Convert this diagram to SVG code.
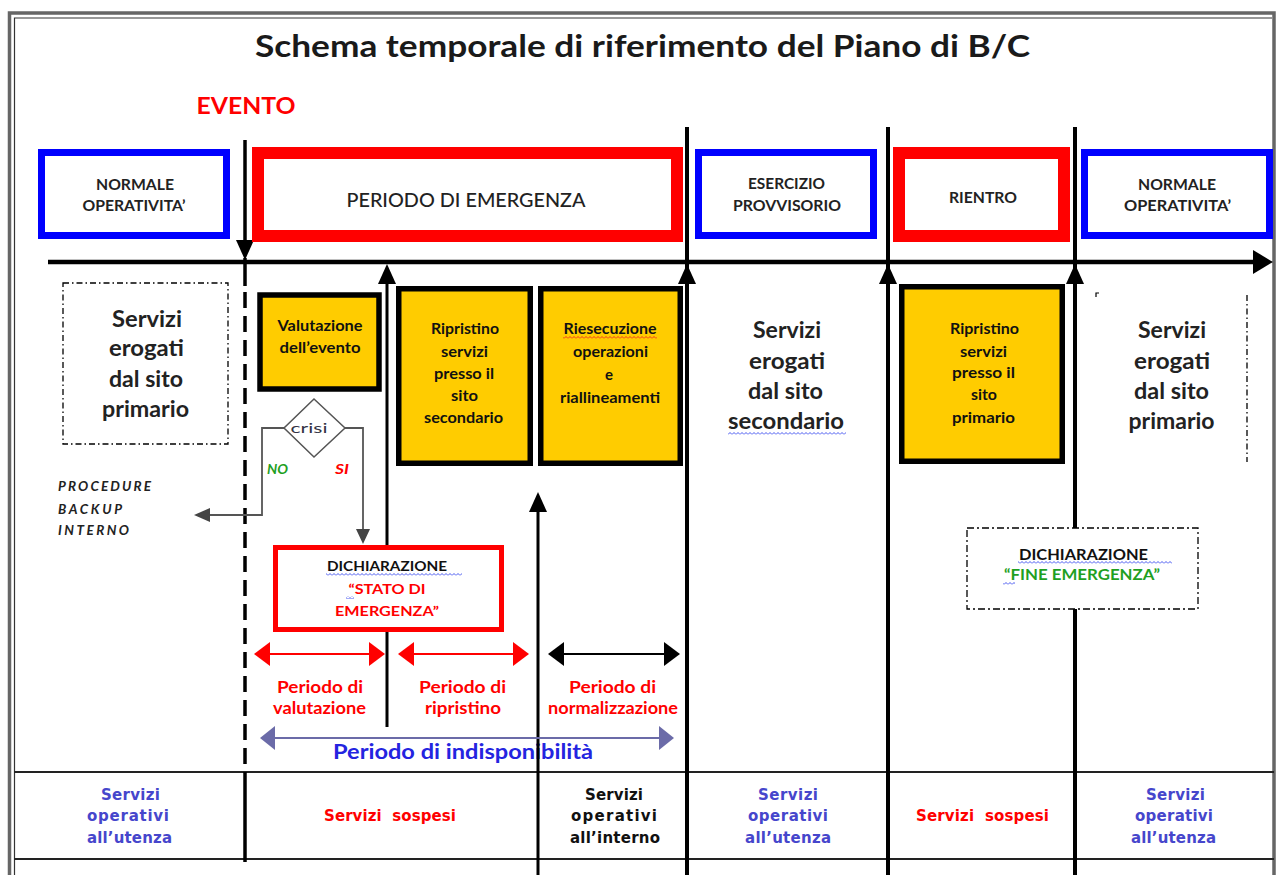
<svg xmlns="http://www.w3.org/2000/svg" xmlns:xlink="http://www.w3.org/1999/xlink" width="1276" height="875" viewBox="0 0 1276 875">
<defs>
<style>
text{font-family:Lato,"Liberation Sans","DejaVu Sans",sans-serif;}
.c{text-anchor:middle}
.hd{font-size:15.5px;font-weight:700;fill:#222}
.serv{font-size:22px;font-weight:700;fill:#222}
.yl{font-size:15px;font-weight:700;fill:#111}
.per{font-size:17.5px;font-weight:700;fill:#ff0000}
.tb{font-family:"DejaVu Sans",Verdana,sans-serif;font-size:15px;font-weight:700}
.blu{fill:#4646cc}
.red{fill:#ff0000}
.blk{fill:#111}
.grn{fill:#1fa01f}
.ybox{fill:#ffcc00;stroke:#000;stroke-width:5.5}
.bbox{fill:#fff;stroke:#0000ff;stroke-width:7}
.rbox{fill:#fff;stroke:#ff0000;stroke-width:12}
.dd{fill:none;stroke:#000;stroke-width:1.3;stroke-dasharray:6 3 1.5 3}
.vl{stroke:#000;stroke-width:4}
.vt{stroke:#000;stroke-width:3}
.gl{fill:none;stroke:#555;stroke-width:1.8}
.tl{stroke:#222;stroke-width:2}
.it{font-style:italic;font-weight:700}
</style>
<path id="ahUp" d="M0,0 L9,20 L-9,20 Z"/>
<path id="ahL" d="M0,0 L16,-12 L16,12 Z"/>
<path id="ahR" d="M0,0 L-16,-12 L-16,12 Z"/>
<path id="ahL2" d="M0,0 L15,-12 L15,12 Z"/>
<path id="ahR2" d="M0,0 L-15,-12 L-15,12 Z"/>
<pattern id="wvB" width="4" height="3" patternUnits="userSpaceOnUse"><path d="M0,2.5 L2,0.5 L4,2.5" fill="none" stroke="#3344ee" stroke-width="0.9"/></pattern>
<pattern id="wvR" width="4" height="3" patternUnits="userSpaceOnUse"><path d="M0,2.5 L2,0.5 L4,2.5" fill="none" stroke="#ee2222" stroke-width="0.9"/></pattern>
</defs>

<rect x="0" y="0" width="1276" height="875" fill="#fff"/>

<g id="frame">
<rect x="9.5" y="13" width="1264.5" height="900" fill="none" stroke="#666" stroke-width="3.5"/>
<path d="M14.5,880 V18 H1272" fill="none" stroke="#333" stroke-width="1.2"/>
</g>

<g id="title">
<text x="642.5" y="57" class="c" font-size="31" font-weight="700" fill="#1a1a1a" textLength="775" lengthAdjust="spacingAndGlyphs">Schema temporale di riferimento del Piano di B/C</text>
</g>
<g id="evento">
<text x="246" y="114" class="c red" font-size="23" font-weight="700" textLength="99" lengthAdjust="spacingAndGlyphs">EVENTO</text>
</g>

<text x="463" y="759" class="c" font-size="20" font-weight="700" fill="#2424e0" textLength="260" lengthAdjust="spacingAndGlyphs">Periodo di indisponibilità</text>

<g id="table">
<line x1="14" y1="772" x2="1274" y2="772" class="tl"/>
<line x1="14" y1="859" x2="1274" y2="859" class="tl"/>
</g>

<g id="connectors">
<line x1="48" y1="262" x2="1256" y2="262" stroke="#000" stroke-width="4.5"/>
<path d="M1253,250 L1273,262 L1253,274 Z" fill="#000"/>
<line x1="245" y1="140" x2="245" y2="246" stroke="#000" stroke-width="3.5"/>
<use xlink:href="#ahUp" transform="translate(245,260) rotate(180)" fill="#000"/>
<line x1="245" y1="258" x2="245" y2="286" stroke="#000" stroke-width="3.5"/>
<line x1="245" y1="292" x2="245" y2="772" stroke="#000" stroke-width="3.5" stroke-dasharray="16 8"/>
<line x1="245" y1="772" x2="245" y2="862" stroke="#000" stroke-width="3.5"/>
<line x1="387" y1="280" x2="387" y2="727" class="vt"/>
<use xlink:href="#ahUp" x="387" y="264" fill="#000"/>
<line x1="538" y1="508" x2="538" y2="875" class="vt"/>
<use xlink:href="#ahUp" x="538" y="492" fill="#000"/>
<line x1="687" y1="127" x2="687" y2="875" class="vl"/>
<use xlink:href="#ahUp" x="687" y="264" fill="#000"/>
<line x1="888" y1="127" x2="888" y2="875" class="vl"/>
<use xlink:href="#ahUp" x="888" y="264" fill="#000"/>
<line x1="1075" y1="127" x2="1075" y2="875" class="vl"/>
<use xlink:href="#ahUp" x="1075" y="264" fill="#000"/>
<path d="M284,428 H262 V515 H206" class="gl"/>
<path d="M210,508 L194,515 L210,522 Z" fill="#444"/>
<path d="M345,428 H363 V532" class="gl"/>
<path d="M356,529 L363,544 L370,529 Z" fill="#444"/>
<line x1="268" y1="654" x2="371" y2="654" stroke="#ff0000" stroke-width="2"/>
<use xlink:href="#ahL" x="254" y="654" fill="#ff0000"/>
<use xlink:href="#ahR" x="385" y="654" fill="#ff0000"/>
<line x1="412" y1="654" x2="515" y2="654" stroke="#ff0000" stroke-width="2"/>
<use xlink:href="#ahL" x="398" y="654" fill="#ff0000"/>
<use xlink:href="#ahR" x="529" y="654" fill="#ff0000"/>
<line x1="562" y1="654" x2="666" y2="654" stroke="#000" stroke-width="2"/>
<use xlink:href="#ahL" x="548" y="654" fill="#000"/>
<use xlink:href="#ahR" x="680" y="654" fill="#000"/>
<line x1="272" y1="738" x2="662" y2="738" stroke="#6b6ba8" stroke-width="2"/>
<use xlink:href="#ahL2" x="260" y="738" fill="#6b6ba8"/>
<use xlink:href="#ahR2" x="674" y="738" fill="#6b6ba8"/>
</g>

<g id="normale-sx">
<rect x="41.5" y="152.5" width="185" height="83" class="bbox"/>
<text x="135" y="190" class="c hd" textLength="78" lengthAdjust="spacingAndGlyphs">NORMALE</text>
<text x="134" y="211" class="c hd" textLength="103" lengthAdjust="spacingAndGlyphs">OPERATIVITA’</text>
</g>
<g id="periodo-emergenza">
<rect x="258" y="153" width="419" height="83" class="rbox"/>
<text x="466" y="207" class="c" font-size="19.5" font-weight="500" fill="#222" textLength="239" lengthAdjust="spacingAndGlyphs">PERIODO DI EMERGENZA</text>
</g>
<g id="esercizio">
<rect x="698.5" y="152.5" width="175" height="83" class="bbox"/>
<text x="786.5" y="189" class="c hd" font-size="14.5" textLength="77" lengthAdjust="spacingAndGlyphs">ESERCIZIO</text>
<text x="787" y="211" class="c hd" font-size="14.5" textLength="108" lengthAdjust="spacingAndGlyphs">PROVVISORIO</text>
</g>
<g id="rientro">
<rect x="899" y="153" width="165" height="83" class="rbox"/>
<text x="983" y="203" class="c hd" font-size="14.5" textLength="68" lengthAdjust="spacingAndGlyphs">RIENTRO</text>
</g>
<g id="normale-dx">
<rect x="1084.5" y="152.5" width="185" height="83" class="bbox"/>
<text x="1177" y="190" class="c hd" textLength="78" lengthAdjust="spacingAndGlyphs">NORMALE</text>
<text x="1177.5" y="211" class="c hd" textLength="107" lengthAdjust="spacingAndGlyphs">OPERATIVITA’</text>
</g>

<g id="servizi-primario-sx">
<rect x="63" y="283" width="165" height="161" class="dd"/>
<text x="147" y="327" class="c serv" textLength="70" lengthAdjust="spacingAndGlyphs">Servizi</text>
<text x="146.5" y="356" class="c serv" textLength="75" lengthAdjust="spacingAndGlyphs">erogati</text>
<text x="146" y="387" class="c serv" textLength="74" lengthAdjust="spacingAndGlyphs">dal sito</text>
<text x="145.5" y="417" class="c serv" textLength="87" lengthAdjust="spacingAndGlyphs">primario</text>
</g>
<g id="servizi-secondario">
<text x="787" y="338" class="c serv" textLength="68" lengthAdjust="spacingAndGlyphs">Servizi</text>
<text x="787" y="369" class="c serv" textLength="76" lengthAdjust="spacingAndGlyphs">erogati</text>
<text x="785.5" y="399" class="c serv" textLength="75" lengthAdjust="spacingAndGlyphs">dal sito</text>
<text x="786" y="429" class="c serv" textLength="116" lengthAdjust="spacingAndGlyphs">secondario</text>
<rect x="728" y="432" width="118" height="3" fill="url(#wvB)"/>
</g>
<g id="servizi-primario-dx">
<path d="M1096,297 V293 H1099" fill="none" stroke="#000" stroke-width="1.2"/>
<line x1="1247" y1="295" x2="1247" y2="462" class="dd"/>
<text x="1172" y="338" class="c serv" textLength="68" lengthAdjust="spacingAndGlyphs">Servizi</text>
<text x="1172" y="369" class="c serv" textLength="76" lengthAdjust="spacingAndGlyphs">erogati</text>
<text x="1171.5" y="399" class="c serv" textLength="75" lengthAdjust="spacingAndGlyphs">dal sito</text>
<text x="1171.5" y="429" class="c serv" textLength="86" lengthAdjust="spacingAndGlyphs">primario</text>
</g>

<g id="valutazione">
<rect x="260" y="295" width="119" height="94" class="ybox"/>
<text x="320" y="331" class="c yl" font-weight="600" textLength="85" lengthAdjust="spacingAndGlyphs">Valutazione</text>
<text x="320" y="353" class="c yl" font-weight="600" textLength="81" lengthAdjust="spacingAndGlyphs">dell’evento</text>
</g>
<g id="ripristino-secondario">
<rect x="398.75" y="288.75" width="131.5" height="174.5" class="ybox"/>
<text x="465" y="334" class="c yl" textLength="68" lengthAdjust="spacingAndGlyphs">Ripristino</text>
<text x="464.5" y="357" class="c yl" textLength="47" lengthAdjust="spacingAndGlyphs">servizi</text>
<text x="464" y="379" class="c yl" textLength="60" lengthAdjust="spacingAndGlyphs">presso il</text>
<text x="464.5" y="401" class="c yl" textLength="27" lengthAdjust="spacingAndGlyphs">sito</text>
<text x="463.5" y="423" class="c yl" textLength="79" lengthAdjust="spacingAndGlyphs">secondario</text>
</g>
<g id="riesecuzione">
<rect x="540.75" y="288.75" width="139.5" height="174.5" class="ybox"/>
<text x="610" y="334" class="c yl" textLength="93" lengthAdjust="spacingAndGlyphs">Riesecuzione</text>
<rect x="563" y="336" width="94" height="3" fill="url(#wvR)"/>
<text x="610.5" y="357" class="c yl" textLength="75" lengthAdjust="spacingAndGlyphs">operazioni</text>
<text x="609" y="380" class="c yl">e</text>
<text x="610" y="403" class="c yl" textLength="100" lengthAdjust="spacingAndGlyphs">riallineamenti</text>
</g>
<g id="ripristino-primario">
<rect x="901.75" y="286.75" width="160.5" height="174.5" class="ybox"/>
<text x="984.5" y="334" class="c yl" textLength="69" lengthAdjust="spacingAndGlyphs">Ripristino</text>
<text x="983.5" y="357" class="c yl" textLength="47" lengthAdjust="spacingAndGlyphs">servizi</text>
<text x="983.5" y="378" class="c yl" textLength="63" lengthAdjust="spacingAndGlyphs">presso il</text>
<text x="984" y="400" class="c yl" textLength="26" lengthAdjust="spacingAndGlyphs">sito</text>
<text x="983.5" y="423" class="c yl" textLength="63" lengthAdjust="spacingAndGlyphs">primario</text>
</g>

<g id="crisi">
<polygon points="314,399 345,428 314,457 284,428" fill="#fff" stroke="#555" stroke-width="1.5"/>
<text x="309" y="433" class="c" font-size="14" fill="#334" textLength="37" lengthAdjust="spacingAndGlyphs">crisi</text>
<text x="267" y="474" class="it grn" font-size="14" textLength="21" lengthAdjust="spacingAndGlyphs">NO</text>
<text x="335" y="474" class="it red" font-size="14" textLength="14" lengthAdjust="spacingAndGlyphs">SI</text>
</g>
<g id="procedure-backup">
<text x="58" y="491" class="it" font-size="13.5" fill="#222" textLength="93">PROCEDURE</text>
<text x="58" y="514" class="it" font-size="13.5" fill="#222" textLength="64">BACKUP</text>
<text x="58" y="535" class="it" font-size="13.5" fill="#222" textLength="71">INTERNO</text>
</g>

<g id="stato-emergenza">
<rect x="275.5" y="547.5" width="226" height="82" fill="#fff" stroke="#ff0000" stroke-width="5"/>
<text x="387" y="571" class="c blk" font-size="14" font-weight="700" textLength="120" lengthAdjust="spacingAndGlyphs">DICHIARAZIONE</text>
<rect x="326" y="573" width="136" height="3" fill="url(#wvB)"/>
<text x="387" y="594" class="c red" font-size="14" font-weight="700" textLength="77" lengthAdjust="spacingAndGlyphs">“STATO DI</text>
<rect x="346" y="596" width="8" height="3" fill="url(#wvB)"/>
<text x="387" y="616" class="c red" font-size="14" font-weight="700" textLength="104" lengthAdjust="spacingAndGlyphs">EMERGENZA”</text>
</g>

<g id="fine-emergenza">
<rect x="967" y="528" width="231" height="81" fill="#fff" stroke="#000" stroke-width="1.3" stroke-dasharray="7 3 2 3"/>
<text x="1083.5" y="560" class="c blk" font-size="15" font-weight="700" textLength="129" lengthAdjust="spacingAndGlyphs">DICHIARAZIONE</text>
<rect x="1018" y="561" width="154" height="3" fill="url(#wvB)"/>
<text x="1082" y="580" class="c grn" font-size="15" font-weight="700" textLength="156" lengthAdjust="spacingAndGlyphs">“FINE EMERGENZA”</text>
<rect x="1003" y="582" width="12" height="3" fill="url(#wvB)"/>
</g>

<g id="periodi">
<text x="320" y="693" class="c per" textLength="86" lengthAdjust="spacingAndGlyphs">Periodo di</text>
<text x="319.5" y="714" class="c per" textLength="93" lengthAdjust="spacingAndGlyphs">valutazione</text>
<text x="462.5" y="693" class="c per" textLength="87" lengthAdjust="spacingAndGlyphs">Periodo di</text>
<text x="463" y="714" class="c per" textLength="76" lengthAdjust="spacingAndGlyphs">ripristino</text>
<text x="612.5" y="693" class="c per" textLength="87" lengthAdjust="spacingAndGlyphs">Periodo di</text>
<text x="613" y="714" class="c per" textLength="130" lengthAdjust="spacingAndGlyphs">normalizzazione</text>
</g>

<g id="cella-1">
<text x="130.5" y="800" class="c tb blu" textLength="59">Servizi</text>
<text x="128" y="821" class="c tb blu" textLength="82">operativi</text>
<text x="129.5" y="843" class="c tb blu" textLength="85">all’utenza</text>
</g>
<g id="cella-2">
<text x="390" y="821" class="c tb red" xml:space="preserve" textLength="132">Servizi  sospesi</text>
</g>
<g id="cella-3">
<text x="614" y="800" class="c tb blk" textLength="58">Servizi</text>
<text x="614" y="821" class="c tb blk" textLength="86">operativi</text>
<text x="615" y="843" class="c tb blk" textLength="90">all’interno</text>
</g>
<g id="cella-4">
<text x="788" y="800" class="c tb blu" textLength="60">Servizi</text>
<text x="788" y="821" class="c tb blu" textLength="80">operativi</text>
<text x="788" y="843" class="c tb blu" textLength="86">all’utenza</text>
</g>
<g id="cella-5">
<text x="982.5" y="821" class="c tb red" xml:space="preserve" textLength="133">Servizi  sospesi</text>
</g>
<g id="cella-6">
<text x="1175.5" y="800" class="c tb blu" textLength="59">Servizi</text>
<text x="1174" y="821" class="c tb blu" textLength="78">operativi</text>
<text x="1173.5" y="843" class="c tb blu" textLength="85">all’utenza</text>
</g>
</svg>
